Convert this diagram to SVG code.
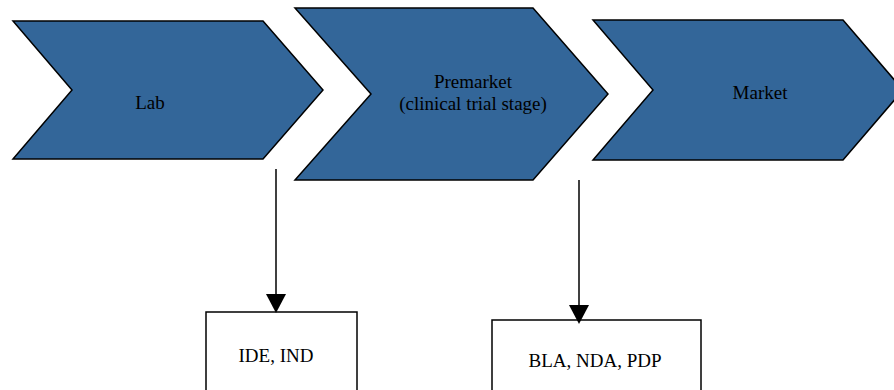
<svg xmlns="http://www.w3.org/2000/svg" width="894" height="390" viewBox="0 0 894 390">
<defs>
<style>
.chev{fill:#336699;stroke:#000;stroke-width:1.5;stroke-linejoin:miter}
.box{fill:#fff;stroke:#000;stroke-width:1.5}
.t{font-family:"Liberation Serif","Times New Roman",serif;font-size:19px;fill:#000;text-anchor:middle}
.conn{stroke:#000;stroke-width:1.5;fill:none}
</style>
</defs>
<rect width="894" height="390" fill="#fff"/>
<g id="lab">
<polygon class="chev" points="13,21 263,21 323,90 263,159 13,159 72,90"/>
<text class="t" x="150" y="109">Lab</text>
</g>
<g id="premarket">
<polygon class="chev" points="295,8 533,8 608,94 533,180 295,180 371,94"/>
<text class="t" x="473" y="88">Premarket</text>
<text class="t" x="473" y="110">(clinical trial stage)</text>
</g>
<g id="market">
<polygon class="chev" points="593,20 843,20 903,90 843,160 593,160 653,90"/>
<text class="t" x="760" y="99">Market</text>
</g>
<g id="ide">
<rect class="box" x="206" y="312" width="151" height="90"/>
<text class="t" x="276" y="362">IDE, IND</text>
</g>
<g id="bla">
<rect class="box" x="492" y="320" width="209" height="82"/>
<text class="t" x="595" y="367">BLA, NDA, PDP</text>
</g>
<g id="connectors">
<line class="conn" x1="276" y1="169" x2="276" y2="296"/>
<path d="M266,294 L286,294 L276,313 Z" fill="#000"/>
<line class="conn" x1="579" y1="180" x2="579" y2="307"/>
<path d="M569,305 L589,305 L579,324 Z" fill="#000"/>
</g>
</svg>
